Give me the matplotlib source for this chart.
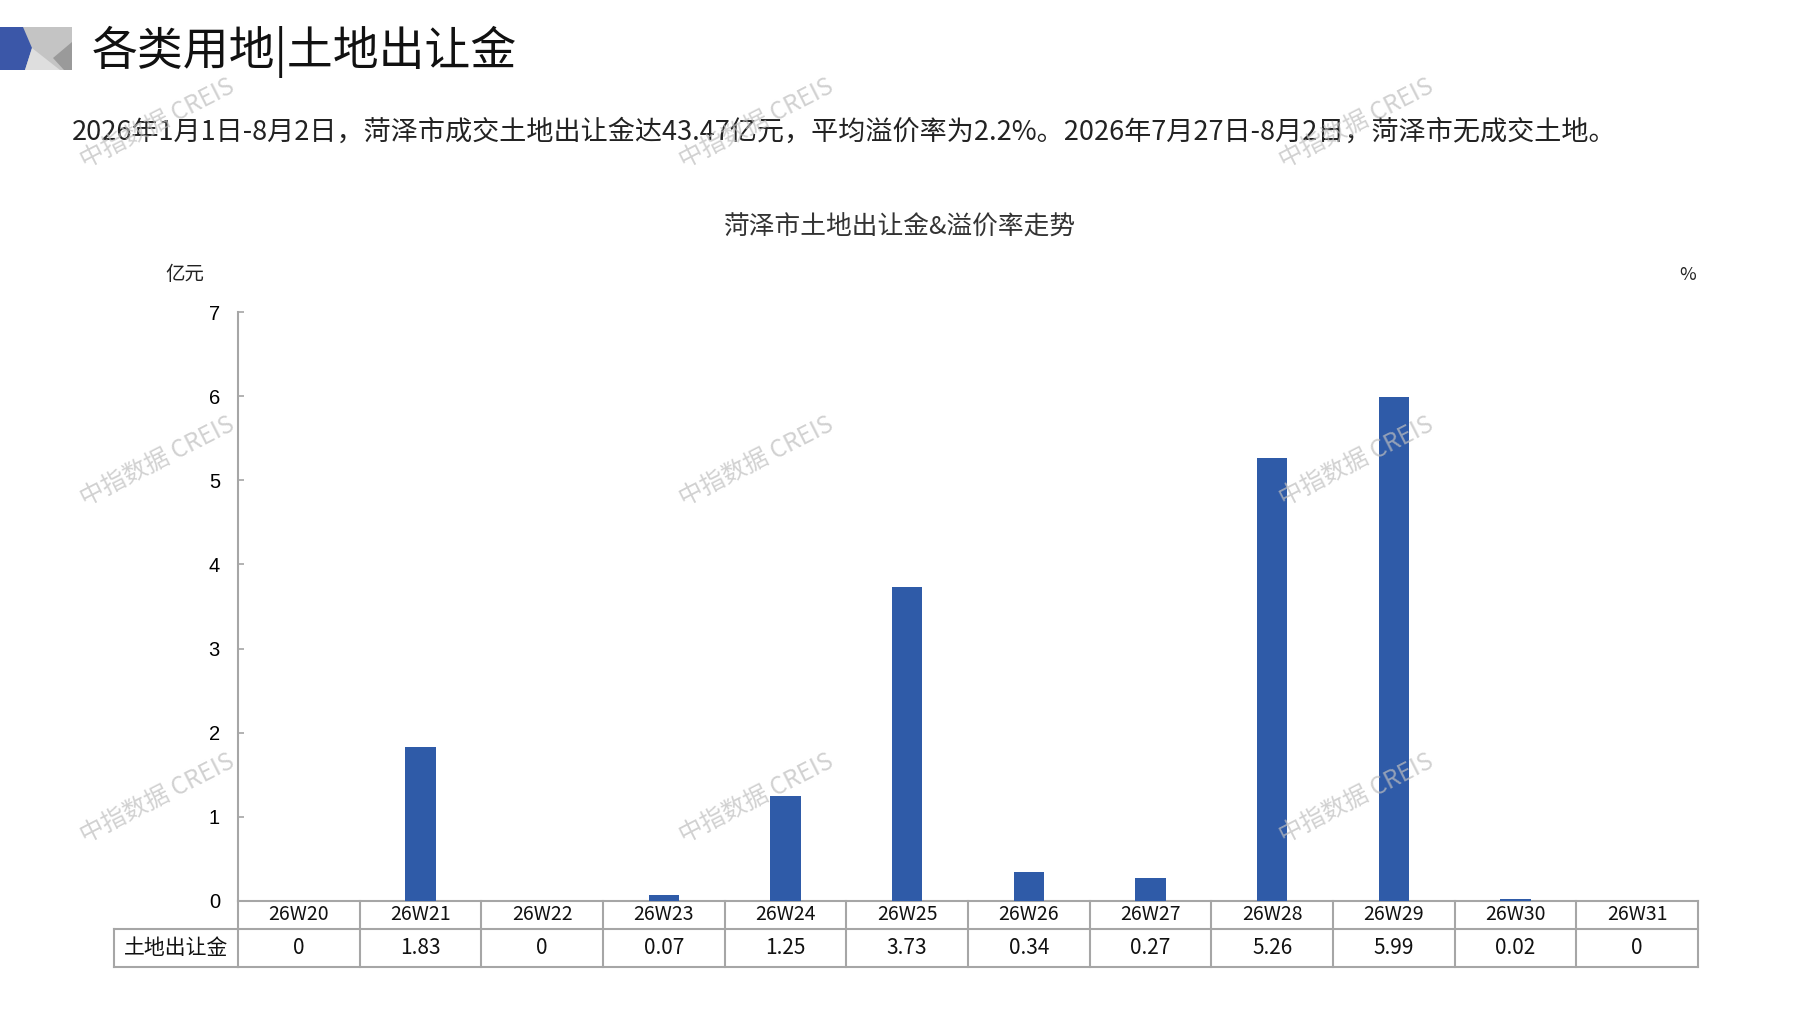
import matplotlib
matplotlib.use("Agg")
import matplotlib.pyplot as plt
from matplotlib.patches import Polygon
from matplotlib.transforms import blended_transform_factory

plt.rcParams['font.family'] = ['Noto Sans CJK SC', 'DejaVu Sans']

# data
weeks = ["26W20", "26W21", "26W22", "26W23", "26W24", "26W25",
         "26W26", "26W27", "26W28", "26W29", "26W30", "26W31"]
land_fee = [0, 1.83, 0, 0.07, 1.25, 3.73, 0.34, 0.27, 5.26, 5.99, 0.02, 0]
value_labels = ["0", "1.83", "0", "0.07", "1.25", "3.73",
                "0.34", "0.27", "5.26", "5.99", "0.02", "0"]
row_label = "土地出让金"
y_ticks = [0, 1, 2, 3, 4, 5, 6, 7]

page_title = "各类用地|土地出让金"
summary = ("2026年1月1日-8月2日，菏泽市成交土地出让金达43.47亿元，平均溢价率为2.2%。"
           "2026年7月27日-8月2日，菏泽市无成交土地。")
chart_title = "菏泽市土地出让金&溢价率走势"
watermark = "中指数据 CREIS"

W, H = 1797, 1010
BAR_COLOR = "#2F5BA8"
GRID_GREY = "#A6A6A6"


def fx(px):
    return px / W


def fy(py):
    return 1 - py / H


fig = plt.figure(figsize=(W / 100, H / 100), dpi=100)

# logo block in the header
logo = [
    ([(0, 27), (72, 27), (72, 70), (0, 70)], "#C4C4C4"),
    ([(0, 27), (23, 27), (32, 48), (25, 70), (0, 70)], "#3B57A8"),
    ([(32, 48), (25, 70), (60, 70)], "#DEDEDE"),
    ([(53, 58), (72, 42), (72, 70), (64, 70)], "#9A9A9A"),
]
for pts, col in logo:
    fig.patches.append(Polygon([(fx(x), fy(y)) for x, y in pts], closed=True,
                               facecolor=col, edgecolor="none",
                               transform=fig.transFigure, figure=fig))

fig.text(fx(92), fy(52), page_title, fontsize=33, va="center", ha="left", color="#111111")
fig.text(fx(72), fy(132), summary, fontsize=19.5, va="center", ha="left", color="#222222")
fig.text(fx(900), fy(228), chart_title, fontsize=18.5, va="center", ha="center", color="#333333")
fig.text(fx(185), fy(275), "亿元", fontsize=14, va="center", ha="center", color="#222222")
fig.text(fx(1688), fy(275), "%", fontsize=13, va="center", ha="center", color="#222222")

# main axes
ax = fig.add_axes([fx(238), fy(901), fx(1698) - fx(238), fy(312) - fy(901)])
x = list(range(len(weeks)))
ax.bar(x, land_fee, width=0.25, color=BAR_COLOR, zorder=3)
ax.set_xlim(-0.5, len(weeks) - 0.5)
ax.set_ylim(0, 7)
ax.set_yticks(y_ticks)
ax.set_xticks([])
for s in ["top", "right"]:
    ax.spines[s].set_visible(False)
for s in ["left", "bottom"]:
    ax.spines[s].set_color(GRID_GREY)
    ax.spines[s].set_linewidth(1.5)
ax.tick_params(axis="y", direction="in", length=4, width=1.2, color=GRID_GREY,
               labelsize=14.5, pad=13)
for lab in ax.get_yticklabels():
    lab.set_fontfamily(["Liberation Sans", "DejaVu Sans"])

# data table under the axis
axh = 901 - 312
r1 = -(929 - 901) / axh
r2 = -(967 - 901) / axh
tr = blended_transform_factory(ax.transData, ax.transAxes)
lw = 1.5
n = len(weeks)
for i in range(n + 1):
    ax.plot([i - 0.5, i - 0.5], [0, r2], transform=tr, color=GRID_GREY, lw=lw, clip_on=False)
ax.plot([-0.5, n - 0.5], [r1, r1], transform=tr, color=GRID_GREY, lw=lw, clip_on=False)
ax.plot([-0.5, n - 0.5], [r2, r2], transform=tr, color=GRID_GREY, lw=lw, clip_on=False)
for i, (wk, v) in enumerate(zip(weeks, value_labels)):
    ax.text(i, r1 / 2, wk, transform=tr, ha="center", va="center", fontsize=14,
            color="#111111")
    ax.text(i, (r1 + r2) / 2, v, transform=tr, ha="center", va="center", fontsize=15,
            color="#111111")

# row label box
fig.add_artist(plt.Line2D([fx(114), fx(238)], [fy(929), fy(929)], color=GRID_GREY, lw=lw))
fig.add_artist(plt.Line2D([fx(114), fx(238)], [fy(967), fy(967)], color=GRID_GREY, lw=lw))
fig.add_artist(plt.Line2D([fx(114), fx(114)], [fy(929), fy(967)], color=GRID_GREY, lw=lw))
fig.text(fx(176), fy(948), row_label, fontsize=15, ha="center", va="center", color="#111111")

# watermarks
for wx in [157, 756, 1356]:
    for wy in [124, 462, 799]:
        fig.text(fx(wx), fy(wy), watermark, fontsize=17.5, rotation=27, ha="center",
                 va="center", color="#BEBEBE", alpha=0.7, zorder=10,
                 family=["Noto Sans CJK SC", "Liberation Sans"])

fig.savefig("out.png", dpi=100)
